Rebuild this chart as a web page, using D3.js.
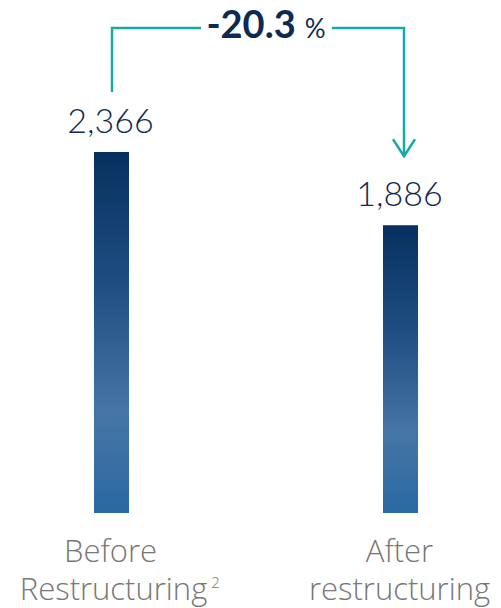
<!DOCTYPE html>
<html><head><meta charset="utf-8">
<script src="https://cdn.jsdelivr.net/npm/d3@7"></script>
<style>body{margin:0;background:#fff}svg{display:block}</style>
</head><body>
<script>
const categories = ["Before Restructuring", "After restructuring"];
const labelLines = [["Before", "Restructuring"], ["After", "restructuring"]];
const labelSup = ["2", ""];
const values = [2366, 1886];
const valueLabels = ["2,366", "1,886"];
const changeLabel = "-20.3";
const changeUnit = "%";

const W = 501, H = 608;
const svg = d3.select("body").append("svg").attr("width", W).attr("height", H);

const x = d3.scalePoint().domain(categories).range([111.5, 400.5]);
const y = d3.scaleLinear().domain([0, 2366]).range([513, 152]);
const bw = 35;

const defs = svg.append("defs");
const grad = defs.append("linearGradient").attr("id", "barGrad")
  .attr("x1", 0).attr("y1", 0).attr("x2", 0).attr("y2", 1);
[[0, "#07305f"], [0.35, "#1d4d80"], [0.72, "#4676a6"], [1, "#2a69a2"]].forEach(([o, c]) =>
  grad.append("stop").attr("offset", o).attr("stop-color", c));

svg.selectAll("rect.bar").data(values).join("rect").attr("class", "bar")
  .attr("x", (d, i) => x(categories[i]) - bw / 2)
  .attr("y", d => y(d))
  .attr("width", bw)
  .attr("height", d => y(0) - y(d))
  .attr("fill", "url(#barGrad)");

svg.selectAll("text.val").data(values).join("text").attr("class", "val")
  .attr("x", (d, i) => x(categories[i]) - 1)
  .attr("y", d => y(d) - 19)
  .attr("text-anchor", "middle")
  .attr("font-family", "Lato, sans-serif").attr("font-weight", 300)
  .attr("font-size", 34).attr("fill", "#0f2a52")
  .text((d, i) => valueLabels[i]);

// category labels
const lab = svg.selectAll("g.lab").data(categories).join("g").attr("class", "lab")
  .attr("font-family", "'Open Sans', sans-serif").attr("font-weight", 300).attr("fill", "#777777");
lab.each(function (c, i) {
  const g = d3.select(this);
  g.append("text").attr("x", x(c) - 1).attr("y", 562)
    .attr("text-anchor", "middle").attr("font-size", 31).text(labelLines[i][0]);
  const cx2 = x(c) + (labelSup[i] ? 2 : -1);
  const t2 = g.append("text").attr("x", cx2).attr("y", 600)
    .attr("text-anchor", "middle").attr("font-size", 31).text(labelLines[i][1]);
  if (labelSup[i]) {
    const len = t2.node().getComputedTextLength();
    g.append("text").attr("x", cx2 + len / 2 + 4).attr("y", 588)
      .attr("font-size", 15).text(labelSup[i]);
  }
});

// change annotation
const teal = "#16aaa6";
const xl = x(categories[0]) + 0.5, xr = x(categories[1]) + 3.5, yt = 28;
const txtCx = 266;
const ann = svg.append("g").attr("fill", "none").attr("stroke", teal).attr("stroke-width", 2.5);
ann.append("path").attr("d", `M${xl},${y(values[0]) - 60}V${yt}H201`);
ann.append("path").attr("d", `M332,${yt}H${xr}V${y(values[1]) - 69}`);
ann.append("path").attr("d", `M${xr - 11},${y(values[1]) - 86}L${xr},${y(values[1]) - 69}L${xr + 11},${y(values[1]) - 86}`);

const ct = svg.append("text").attr("x", txtCx).attr("y", 38).attr("text-anchor", "middle")
  .attr("font-family", "Lato, sans-serif").attr("fill", "#0f2a52");
ct.append("tspan").attr("font-weight", 700).attr("font-size", 38).text(changeLabel);
ct.append("tspan").attr("dx", 9).attr("font-weight", 400).attr("font-size", 26).text(changeUnit);
</script>
</body></html>
